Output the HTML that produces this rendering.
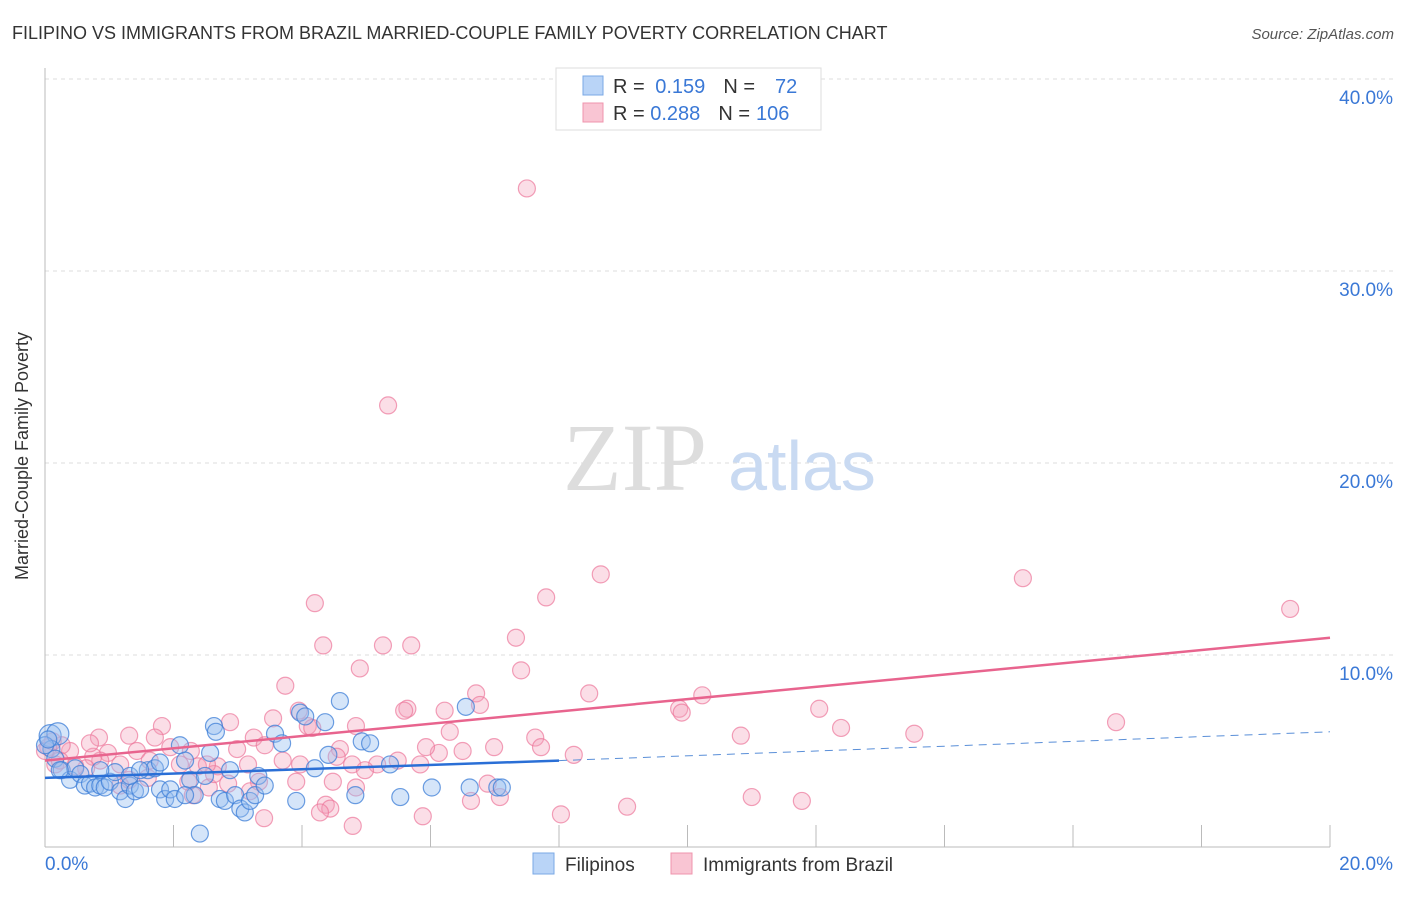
<!DOCTYPE html>
<html><head><meta charset="utf-8">
<style>
body{margin:0;background:#fff;font-family:"Liberation Sans",sans-serif;}
svg text{font-family:"Liberation Sans",sans-serif;}
</style></head>
<body>
<svg id="chart" width="1406" height="892" xmlns="http://www.w3.org/2000/svg">
<text x="12" y="39" font-size="18" fill="#333">FILIPINO VS IMMIGRANTS FROM BRAZIL MARRIED-COUPLE FAMILY POVERTY CORRELATION CHART</text>
<text x="1394" y="39" font-size="15" fill="#555" font-style="italic" text-anchor="end">Source: ZipAtlas.com</text>
<g id="grid"></g>
<g>
<text x="635" y="490" font-size="96" fill="#ddd" font-family="Liberation Serif" text-anchor="middle" style="font-family:'Liberation Serif',serif">ZIP</text>
<text x="802" y="490" font-size="70" fill="#c9daf2" text-anchor="middle">atlas</text>
</g>
<line x1="45" y1="68" x2="45" y2="847" stroke="#bbb"/>
<line x1="45" y1="847" x2="1330" y2="847" stroke="#bbb"/>
<g id="ticks"></g>
<text x="28" y="456" font-size="18" fill="#333" text-anchor="middle" transform="rotate(-90 28 456)">Married-Couple Family Poverty</text>
<g id="pink"></g><g id="blue"></g><g id="trends"></g>
<g>
<rect x="556" y="68" width="265" height="62" fill="#fff" stroke="#ddd"/>
<rect x="583" y="76" width="20" height="19" fill="#b9d4f7" stroke="#7aa8e6"/>
<rect x="583" y="103" width="20" height="19" fill="#f9c5d3" stroke="#ef94ad"/>
<text x="613" y="93" font-size="20" fill="#333">R = <tspan fill="#3a78d6" dx="5">0.159</tspan><tspan dx="18" fill="#333">N =</tspan><tspan dx="20" fill="#3a78d6">72</tspan></text>
<text x="613" y="120" font-size="20" fill="#333">R = <tspan fill="#3a78d6">0.288</tspan><tspan dx="18" fill="#333">N =</tspan><tspan dx="6" fill="#3a78d6">106</tspan></text>
</g>
<g>
<rect x="533" y="853" width="21" height="21" fill="#b9d4f7" stroke="#7aa8e6"/>
<text x="565" y="871" font-size="19" fill="#333">Filipinos</text>
<rect x="671" y="853" width="21" height="21" fill="#f9c5d3" stroke="#ef94ad"/>
<text x="703" y="871" font-size="19" fill="#333">Immigrants from Brazil</text>
</g>
</svg>
<script>
const yTicks=[10,20,30,40];
const xTickLabels=["0.0%","20.0%"];
const blueX=[0.08,0.2,0.1,0.16,0.26,0.39,0.47,0.55,0.62,0.7,0.78,0.86,0.93,1.01,1.09,1.17,1.25,1.32,1.4,1.48,1.6,1.71,1.79,1.87,1.95,2.02,2.1,2.18,2.26,2.33,2.41,2.49,2.57,2.63,2.66,2.72,2.8,2.88,2.96,3.04,3.11,3.19,3.27,3.32,3.42,3.58,3.69,3.91,3.97,4.05,4.2,4.36,4.41,4.59,4.83,4.93,5.06,5.37,5.53,6.02,6.55,6.61,7.04,7.11,0,0.05,1.79,0.86,1.32,2.18,0.23,1.48];
const blueY=[5.8,5.9,5.1,4.6,4.0,3.5,4.1,3.8,3.2,3.3,3.1,3.2,3.1,3.4,3.9,2.9,2.5,3.2,2.9,3.0,4.0,4.1,3.0,2.5,3.0,2.5,5.3,4.5,3.5,2.7,0.7,3.7,4.9,6.3,6.0,2.5,2.4,4.0,2.7,2.0,1.8,2.4,2.7,3.7,3.2,5.9,5.4,2.4,7.0,6.8,4.1,6.5,4.8,7.6,2.7,5.5,5.4,4.3,2.6,3.1,7.3,3.1,3.1,3.1,5.3,5.6,4.4,4.0,3.7,2.7,4.0,4.0];
const pinkX=[7.5,5.34,8.65,15.22,19.38,7.8,4.2,7.33,4.33,5.26,5.7,4.9,7.41,3.74,8.47,10.23,6.71,6.77,5.64,5.59,3.95,6.22,9.87,9.91,12.05,16.67,3.55,4.09,4.16,2.88,1.82,1.31,0.84,10.83,12.39,13.53,4.84,3.25,6.3,7.63,7.72,6.99,6.5,6.13,5.93,4.59,4.54,3.42,2.99,2.27,1.95,1.43,0.98,0.86,0.75,0.39,0.26,0.12,0.05,8.23,5.49,5.17,4.78,3.97,3.7,3.16,2.69,2.38,2.1,1.63,1.17,0.64,0.47,0.16,1.31,1.17,1.6,2.55,2.85,3.33,3.91,4.48,4.84,2.3,6.89,7.08,6.63,4.37,4.44,4.28,11.0,11.78,9.06,8.03,5.88,4.79,3.41,2.63,2.23,0.23,0,0.7,1.71,2.52,3.19,4.98,5.84];
const pinkY=[34.3,23.0,14.2,14.0,12.4,13.0,12.7,10.9,10.5,10.5,10.5,9.3,9.2,8.4,8.0,7.9,8.0,7.4,7.2,7.1,7.1,7.1,7.2,7.0,7.2,6.5,6.7,6.3,6.2,6.5,6.3,5.8,5.7,5.8,6.2,5.9,6.3,5.7,6.0,5.7,5.2,5.2,5.0,4.9,5.2,5.1,4.7,5.3,5.1,5.0,5.2,5.0,4.9,4.5,4.7,5.0,5.3,5.5,5.2,4.8,4.5,4.3,4.3,4.3,4.5,4.3,4.2,4.2,4.3,4.5,4.3,4.1,4.2,4.3,3.5,3.2,3.6,3.1,3.3,3.4,3.4,3.4,3.1,2.7,3.3,2.6,2.4,2.2,2.0,1.8,2.6,2.4,2.1,1.7,1.6,1.1,1.5,3.8,3.4,4.5,5.0,5.4,5.7,4.3,2.9,4.0,4.3];
const pinkTrend=[4.5,10.9];
const blueTrend=[3.6,4.5,6.0];
const sx=v=>45+v*64.25, sy=v=>847-v*19.2;
const NS="http://www.w3.org/2000/svg";
function mk(tag,attrs,parent){const e=document.createElementNS(NS,tag);for(const k in attrs)e.setAttribute(k,attrs[k]);parent.appendChild(e);return e;}
const grid=document.getElementById('grid'),ticks=document.getElementById('ticks');
yTicks.forEach(t=>{
 const l=mk('line',{x1:45,x2:1393,y1:sy(t),y2:sy(t),stroke:'#ddd','stroke-dasharray':'4,4'},grid);
 
 
 const tx=mk('text',{x:1393,y:sy(t)+25,'font-size':19,fill:'#3a78d6','text-anchor':'end'},ticks);
 tx.textContent=t.toFixed(1)+'%';
 
 
});
mk('line',{x1:45,x2:1393,y1:sy(40),y2:sy(40),stroke:'#ddd','stroke-dasharray':'4,4'},grid);
for(let i=1;i<=10;i++){
 const l=mk('line',{x1:sx(i*2),x2:sx(i*2),y1:847,y2:825,stroke:'#bbb'},ticks);
 
 
}
[[0,'start',45],[20,'end',1393]].forEach((d,i)=>{
 const t=mk('text',{x:d[2],y:870,'font-size':19,fill:'#3a78d6','text-anchor':d[1]},ticks);
 t.textContent=xTickLabels[i];
 
 
});
const pg=document.getElementById('pink');
pinkX.forEach((x,i)=>{
 const c=mk('circle',{cx:sx(x),cy:sy(pinkY[i]),r:8.5,fill:'rgba(244,160,185,0.35)',stroke:'rgba(236,120,155,0.7)','stroke-width':1.2},pg);
 
 
});
const bg=document.getElementById('blue');
blueX.forEach((x,i)=>{
 const r=i<2?11:8.5;
 const c=mk('circle',{cx:sx(x),cy:sy(blueY[i]),r:r,fill:'rgba(150,190,240,0.4)',stroke:'rgba(60,125,215,0.75)','stroke-width':1.2},bg);
 
 
});
const tg=document.getElementById('trends');
const pl=mk('line',{x1:sx(0),y1:sy(pinkTrend[0]),x2:sx(20),y2:sy(pinkTrend[1]),stroke:'#e8648e','stroke-width':2.5},tg);


const bl=mk('line',{x1:sx(0),y1:sy(blueTrend[0]),x2:sx(8),y2:sy(blueTrend[1]),stroke:'#2a6fd6','stroke-width':2.5},tg);


const bd=mk('line',{x1:sx(8),y1:sy(blueTrend[1]),x2:sx(20),y2:sy(blueTrend[2]),stroke:'#5a8fd8','stroke-width':1,'stroke-dasharray':'8,6'},tg);


</script>
</body></html>
